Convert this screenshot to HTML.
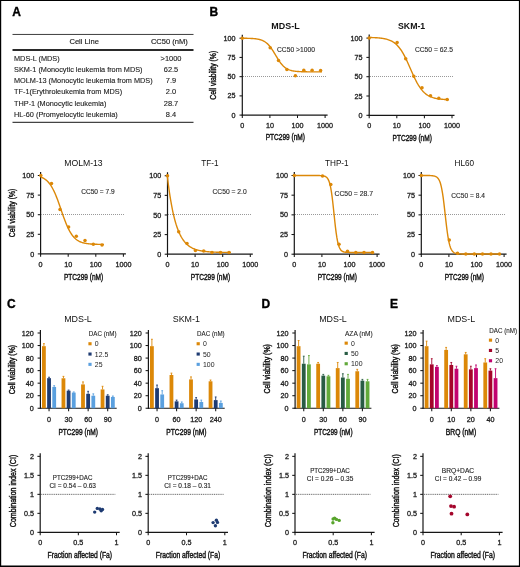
<!DOCTYPE html>
<html><head><meta charset="utf-8"><style>
html,body{margin:0;padding:0;background:#fff;}
svg{display:block;font-family:"Liberation Sans",sans-serif;will-change:transform;}
</style></head><body>
<svg width="520" height="567" viewBox="0 0 520 567">
<rect width="520" height="567" fill="#fff"/>
<rect x="0.00" y="0.00" width="520.00" height="1.00" fill="#000"/>
<rect x="0.00" y="0.00" width="1.20" height="567.00" fill="#000"/>
<rect x="518.90" y="0.00" width="1.10" height="567.00" fill="#000"/>
<rect x="0.00" y="565.50" width="520.00" height="1.50" fill="#000"/>
<text x="12.30" y="15.80" font-size="12" font-weight="bold" fill="#000" stroke="#000" stroke-width="0.35">A</text>
<text x="209.60" y="15.90" font-size="12" font-weight="bold" fill="#000" stroke="#000" stroke-width="0.35">B</text>
<text x="7.00" y="308.00" font-size="12" font-weight="bold" fill="#000" stroke="#000" stroke-width="0.35">C</text>
<text x="261.40" y="308.00" font-size="12" font-weight="bold" fill="#000" stroke="#000" stroke-width="0.35">D</text>
<text x="389.90" y="308.00" font-size="12" font-weight="bold" fill="#000" stroke="#000" stroke-width="0.35">E</text>
<line x1="12.50" y1="34.45" x2="193.50" y2="34.45" stroke="#333" stroke-width="0.95"/>
<line x1="12.50" y1="49.90" x2="193.50" y2="49.90" stroke="#2a2a2a" stroke-width="2.0"/>
<line x1="12.50" y1="122.45" x2="193.50" y2="122.45" stroke="#444" stroke-width="1.2"/>
<text x="84.20" y="43.90" font-size="7.6" text-anchor="middle" fill="#222" stroke="#222" stroke-width="0.15">Cell Line</text>
<text x="169.40" y="43.90" font-size="7.6" text-anchor="middle" textLength="37.00" lengthAdjust="spacingAndGlyphs" fill="#222" stroke="#222" stroke-width="0.15">CC50 (nM)</text>
<text transform="matrix(0.935 0 0 1 14.0 60.50)" font-size="7.85" fill="#222" stroke="#222" stroke-width="0.12">MDS-L (MDS)</text>
<text transform="matrix(0.95 0 0 1 171 60.50)" font-size="7.85" text-anchor="middle" fill="#222" stroke="#222" stroke-width="0.12">&gt;1000</text>
<text transform="matrix(0.935 0 0 1 14.0 71.75)" font-size="7.85" fill="#222" stroke="#222" stroke-width="0.12">SKM-1 (Monocytic leukemia from MDS)</text>
<text transform="matrix(0.95 0 0 1 171 71.75)" font-size="7.85" text-anchor="middle" fill="#222" stroke="#222" stroke-width="0.12">62.5</text>
<text transform="matrix(0.935 0 0 1 14.0 83.00)" font-size="7.85" fill="#222" stroke="#222" stroke-width="0.12">MOLM-13 (Monocytic leukemia from MDS)</text>
<text transform="matrix(0.95 0 0 1 171 83.00)" font-size="7.85" text-anchor="middle" fill="#222" stroke="#222" stroke-width="0.12">7.9</text>
<text transform="matrix(0.935 0 0 1 14.0 94.25)" font-size="7.85" fill="#222" stroke="#222" stroke-width="0.12">TF-1(Erythroleukemia from MDS)</text>
<text transform="matrix(0.95 0 0 1 171 94.25)" font-size="7.85" text-anchor="middle" fill="#222" stroke="#222" stroke-width="0.12">2.0</text>
<text transform="matrix(0.935 0 0 1 14.0 105.50)" font-size="7.85" fill="#222" stroke="#222" stroke-width="0.12">THP-1 (Monocytic leukemia)</text>
<text transform="matrix(0.95 0 0 1 171 105.50)" font-size="7.85" text-anchor="middle" fill="#222" stroke="#222" stroke-width="0.12">28.7</text>
<text transform="matrix(0.935 0 0 1 14.0 116.75)" font-size="7.85" fill="#222" stroke="#222" stroke-width="0.12">HL-60 (Promyelocytic leukemia)</text>
<text transform="matrix(0.95 0 0 1 171 116.75)" font-size="7.85" text-anchor="middle" fill="#222" stroke="#222" stroke-width="0.12">8.4</text>
<text x="285.50" y="29.40" font-size="8.8" text-anchor="middle" font-weight="bold" textLength="28.30" lengthAdjust="spacingAndGlyphs" fill="#111">MDS-L</text>
<line x1="242.30" y1="34.70" x2="242.30" y2="115.60" stroke="#161616" stroke-width="1.2"/>
<line x1="241.70" y1="115.10" x2="327.60" y2="115.10" stroke="#161616" stroke-width="1.2"/>
<line x1="239.50" y1="115.10" x2="242.30" y2="115.10" stroke="#161616" stroke-width="1.05"/>
<text x="235.50" y="117.70" font-size="7.2" text-anchor="end" fill="#222" stroke="#222" stroke-width="0.3">0</text>
<line x1="239.50" y1="95.88" x2="242.30" y2="95.88" stroke="#161616" stroke-width="1.05"/>
<text x="235.50" y="98.47" font-size="7.2" text-anchor="end" fill="#222" stroke="#222" stroke-width="0.3">25</text>
<line x1="239.50" y1="76.65" x2="242.30" y2="76.65" stroke="#161616" stroke-width="1.05"/>
<text x="235.50" y="79.25" font-size="7.2" text-anchor="end" fill="#222" stroke="#222" stroke-width="0.3">50</text>
<line x1="239.50" y1="57.43" x2="242.30" y2="57.43" stroke="#161616" stroke-width="1.05"/>
<text x="235.50" y="60.03" font-size="7.2" text-anchor="end" fill="#222" stroke="#222" stroke-width="0.3">75</text>
<line x1="239.50" y1="38.20" x2="242.30" y2="38.20" stroke="#161616" stroke-width="1.05"/>
<text x="235.50" y="40.80" font-size="7.2" text-anchor="end" fill="#222" stroke="#222" stroke-width="0.3">100</text>
<line x1="242.30" y1="115.10" x2="242.30" y2="118.00" stroke="#161616" stroke-width="1.05"/>
<text x="242.30" y="128.20" font-size="7.2" text-anchor="middle" fill="#222" stroke="#222" stroke-width="0.3">0</text>
<line x1="269.90" y1="115.10" x2="269.90" y2="118.00" stroke="#161616" stroke-width="1.05"/>
<text x="269.90" y="128.20" font-size="7.2" text-anchor="middle" fill="#222" stroke="#222" stroke-width="0.3">10</text>
<line x1="297.50" y1="115.10" x2="297.50" y2="118.00" stroke="#161616" stroke-width="1.05"/>
<text x="297.50" y="128.20" font-size="7.2" text-anchor="middle" fill="#222" stroke="#222" stroke-width="0.3">100</text>
<line x1="325.10" y1="115.10" x2="325.10" y2="118.00" stroke="#161616" stroke-width="1.05"/>
<text x="325.10" y="128.20" font-size="7.2" text-anchor="middle" fill="#222" stroke="#222" stroke-width="0.3">1000</text>
<line x1="243.00" y1="76.50" x2="326.30" y2="76.50" stroke="#999999" stroke-width="1.0" stroke-dasharray="1,1"/>
<path d="M242.30,38.24 L242.96,38.25 L243.63,38.26 L244.29,38.26 L244.96,38.27 L245.62,38.28 L246.29,38.30 L246.95,38.31 L247.61,38.33 L248.28,38.34 L248.94,38.36 L249.61,38.39 L250.27,38.41 L250.93,38.44 L251.60,38.48 L252.26,38.52 L252.93,38.56 L253.59,38.61 L254.26,38.67 L254.92,38.73 L255.58,38.81 L256.25,38.89 L256.91,38.99 L257.58,39.10 L258.24,39.22 L258.90,39.36 L259.57,39.52 L260.23,39.70 L260.90,39.91 L261.56,40.13 L262.23,40.39 L262.89,40.68 L263.55,41.00 L264.22,41.37 L264.88,41.77 L265.55,42.22 L266.21,42.71 L266.87,43.26 L267.54,43.85 L268.20,44.51 L268.87,45.22 L269.53,45.99 L270.19,46.81 L270.86,47.69 L271.52,48.62 L272.19,49.60 L272.85,50.62 L273.52,51.68 L274.18,52.77 L274.84,53.88 L275.51,55.00 L276.17,56.12 L276.84,57.23 L277.50,58.32 L278.17,59.38 L278.83,60.40 L279.49,61.39 L280.16,62.32 L280.82,63.21 L281.49,64.04 L282.15,64.81 L282.81,65.52 L283.48,66.18 L284.14,66.78 L284.81,67.33 L285.47,67.83 L286.13,68.28 L286.80,68.69 L287.46,69.05 L288.13,69.38 L288.79,69.67 L289.46,69.93 L290.12,70.16 L290.78,70.36 L291.45,70.55 L292.11,70.71 L292.78,70.85 L293.44,70.97 L294.11,71.08 L294.77,71.18 L295.43,71.27 L296.10,71.34 L296.76,71.41 L297.43,71.47 L298.09,71.52 L298.75,71.56 L299.42,71.60 L300.08,71.64 L300.75,71.67 L301.41,71.69 L302.07,71.72 L302.74,71.74 L303.40,71.76 L304.07,71.77 L304.73,71.79 L305.40,71.80 L306.06,71.81 L306.72,71.82 L307.39,71.83 L308.05,71.83 L308.72,71.84 L309.38,71.84 L310.05,71.85 L310.71,71.85 L311.37,71.86 L312.04,71.86 L312.70,71.86 L313.37,71.86 L314.03,71.87 L314.69,71.87 L315.36,71.87 L316.02,71.87 L316.69,71.87 L317.35,71.87 L318.01,71.88 L318.68,71.88 L319.34,71.88 L320.01,71.88 L320.67,71.88 L321.34,71.88 L322.00,71.88" fill="none" stroke="#DC8808" stroke-width="1.4"/>
<circle cx="242.30" cy="38.20" r="1.75" fill="#DC8808"/>
<circle cx="270.20" cy="47.70" r="1.75" fill="#DC8808"/>
<circle cx="278.50" cy="60.60" r="1.75" fill="#DC8808"/>
<circle cx="286.90" cy="69.60" r="1.75" fill="#DC8808"/>
<circle cx="295.40" cy="75.80" r="1.75" fill="#DC8808"/>
<circle cx="303.80" cy="70.20" r="1.75" fill="#DC8808"/>
<circle cx="312.10" cy="70.20" r="1.75" fill="#DC8808"/>
<circle cx="320.60" cy="70.60" r="1.75" fill="#DC8808"/>
<text x="277.00" y="52.00" font-size="6.8" textLength="38.00" lengthAdjust="spacingAndGlyphs" fill="#2a2a2a" stroke="#2a2a2a" stroke-width="0.12">CC50 &gt;1000</text>
<text x="285.30" y="140.40" font-size="8.4" text-anchor="middle" textLength="39.30" lengthAdjust="spacingAndGlyphs" fill="#111" stroke="#111" stroke-width="0.4">PTC299 (nM)</text>
<text x="411.60" y="29.40" font-size="8.8" text-anchor="middle" font-weight="bold" textLength="27.20" lengthAdjust="spacingAndGlyphs" fill="#111">SKM-1</text>
<line x1="369.20" y1="34.60" x2="369.20" y2="115.80" stroke="#161616" stroke-width="1.2"/>
<line x1="368.60" y1="115.30" x2="454.50" y2="115.30" stroke="#161616" stroke-width="1.2"/>
<line x1="366.40" y1="115.30" x2="369.20" y2="115.30" stroke="#161616" stroke-width="1.05"/>
<text x="362.40" y="117.90" font-size="7.2" text-anchor="end" fill="#222" stroke="#222" stroke-width="0.3">0</text>
<line x1="366.40" y1="96.00" x2="369.20" y2="96.00" stroke="#161616" stroke-width="1.05"/>
<text x="362.40" y="98.60" font-size="7.2" text-anchor="end" fill="#222" stroke="#222" stroke-width="0.3">25</text>
<line x1="366.40" y1="76.70" x2="369.20" y2="76.70" stroke="#161616" stroke-width="1.05"/>
<text x="362.40" y="79.30" font-size="7.2" text-anchor="end" fill="#222" stroke="#222" stroke-width="0.3">50</text>
<line x1="366.40" y1="57.40" x2="369.20" y2="57.40" stroke="#161616" stroke-width="1.05"/>
<text x="362.40" y="60.00" font-size="7.2" text-anchor="end" fill="#222" stroke="#222" stroke-width="0.3">75</text>
<line x1="366.40" y1="38.10" x2="369.20" y2="38.10" stroke="#161616" stroke-width="1.05"/>
<text x="362.40" y="40.70" font-size="7.2" text-anchor="end" fill="#222" stroke="#222" stroke-width="0.3">100</text>
<line x1="369.20" y1="115.30" x2="369.20" y2="118.20" stroke="#161616" stroke-width="1.05"/>
<text x="369.20" y="128.40" font-size="7.2" text-anchor="middle" fill="#222" stroke="#222" stroke-width="0.3">0</text>
<line x1="396.80" y1="115.30" x2="396.80" y2="118.20" stroke="#161616" stroke-width="1.05"/>
<text x="396.80" y="128.40" font-size="7.2" text-anchor="middle" fill="#222" stroke="#222" stroke-width="0.3">10</text>
<line x1="424.40" y1="115.30" x2="424.40" y2="118.20" stroke="#161616" stroke-width="1.05"/>
<text x="424.40" y="128.40" font-size="7.2" text-anchor="middle" fill="#222" stroke="#222" stroke-width="0.3">100</text>
<line x1="452.00" y1="115.30" x2="452.00" y2="118.20" stroke="#161616" stroke-width="1.05"/>
<text x="452.00" y="128.40" font-size="7.2" text-anchor="middle" fill="#222" stroke="#222" stroke-width="0.3">1000</text>
<line x1="370.00" y1="76.50" x2="453.20" y2="76.50" stroke="#999999" stroke-width="1.0" stroke-dasharray="1,1"/>
<path d="M369.20,37.48 L369.87,37.50 L370.53,37.51 L371.19,37.53 L371.86,37.55 L372.52,37.58 L373.19,37.60 L373.86,37.63 L374.52,37.66 L375.19,37.69 L375.85,37.73 L376.51,37.77 L377.18,37.82 L377.84,37.87 L378.51,37.92 L379.18,37.98 L379.84,38.05 L380.50,38.12 L381.17,38.20 L381.83,38.28 L382.50,38.38 L383.16,38.49 L383.83,38.60 L384.50,38.73 L385.16,38.87 L385.82,39.02 L386.49,39.19 L387.15,39.37 L387.82,39.57 L388.49,39.79 L389.15,40.03 L389.81,40.29 L390.48,40.58 L391.14,40.89 L391.81,41.23 L392.47,41.61 L393.14,42.01 L393.81,42.45 L394.47,42.92 L395.13,43.44 L395.80,43.99 L396.46,44.59 L397.13,45.24 L397.80,45.94 L398.46,46.68 L399.12,47.48 L399.79,48.34 L400.45,49.24 L401.12,50.21 L401.78,51.23 L402.45,52.31 L403.12,53.44 L403.78,54.63 L404.44,55.87 L405.11,57.16 L405.77,58.50 L406.44,59.88 L407.11,61.30 L407.77,62.75 L408.44,64.23 L409.10,65.72 L409.76,67.23 L410.43,68.75 L411.09,70.27 L411.76,71.77 L412.43,73.27 L413.09,74.74 L413.75,76.18 L414.42,77.60 L415.08,78.97 L415.75,80.30 L416.42,81.58 L417.08,82.81 L417.75,83.98 L418.41,85.11 L419.07,86.17 L419.74,87.18 L420.40,88.14 L421.07,89.03 L421.74,89.87 L422.40,90.66 L423.06,91.40 L423.73,92.08 L424.39,92.72 L425.06,93.31 L425.73,93.86 L426.39,94.37 L427.06,94.83 L427.72,95.26 L428.38,95.66 L429.05,96.03 L429.71,96.36 L430.38,96.67 L431.05,96.95 L431.71,97.21 L432.38,97.44 L433.04,97.66 L433.70,97.86 L434.37,98.04 L435.03,98.20 L435.70,98.35 L436.37,98.49 L437.03,98.61 L437.69,98.72 L438.36,98.83 L439.02,98.92 L439.69,99.01 L440.36,99.09 L441.02,99.16 L441.69,99.22 L442.35,99.28 L443.01,99.33 L443.68,99.38 L444.35,99.43 L445.01,99.47 L445.68,99.50 L446.34,99.53 L447.00,99.56 L447.67,99.59 L448.33,99.62 L449.00,99.64" fill="none" stroke="#DC8808" stroke-width="1.4"/>
<circle cx="369.20" cy="38.10" r="1.75" fill="#DC8808"/>
<circle cx="397.10" cy="42.50" r="1.75" fill="#DC8808"/>
<circle cx="405.70" cy="58.80" r="1.75" fill="#DC8808"/>
<circle cx="413.80" cy="76.30" r="1.75" fill="#DC8808"/>
<circle cx="422.00" cy="87.80" r="1.75" fill="#DC8808"/>
<circle cx="430.50" cy="95.70" r="1.75" fill="#DC8808"/>
<circle cx="438.80" cy="98.30" r="1.75" fill="#DC8808"/>
<circle cx="447.20" cy="99.40" r="1.75" fill="#DC8808"/>
<text x="414.90" y="52.00" font-size="6.8" textLength="38.00" lengthAdjust="spacingAndGlyphs" fill="#2a2a2a" stroke="#2a2a2a" stroke-width="0.12">CC50 = 62.5</text>
<text x="412.20" y="140.60" font-size="8.4" text-anchor="middle" textLength="39.30" lengthAdjust="spacingAndGlyphs" fill="#111" stroke="#111" stroke-width="0.4">PTC299 (nM)</text>
<text x="83.45" y="166.20" font-size="8.2" text-anchor="middle" textLength="38.50" lengthAdjust="spacingAndGlyphs" fill="#111">MOLM-13</text>
<line x1="40.60" y1="172.00" x2="40.60" y2="254.40" stroke="#161616" stroke-width="1.2"/>
<line x1="40.00" y1="253.90" x2="125.90" y2="253.90" stroke="#161616" stroke-width="1.2"/>
<line x1="37.80" y1="253.90" x2="40.60" y2="253.90" stroke="#161616" stroke-width="1.05"/>
<text x="34.35" y="256.50" font-size="7.2" text-anchor="end" fill="#222" stroke="#222" stroke-width="0.3">0</text>
<line x1="37.80" y1="234.30" x2="40.60" y2="234.30" stroke="#161616" stroke-width="1.05"/>
<text x="34.35" y="236.90" font-size="7.2" text-anchor="end" fill="#222" stroke="#222" stroke-width="0.3">25</text>
<line x1="37.80" y1="214.70" x2="40.60" y2="214.70" stroke="#161616" stroke-width="1.05"/>
<text x="34.35" y="217.30" font-size="7.2" text-anchor="end" fill="#222" stroke="#222" stroke-width="0.3">50</text>
<line x1="37.80" y1="195.10" x2="40.60" y2="195.10" stroke="#161616" stroke-width="1.05"/>
<text x="34.35" y="197.70" font-size="7.2" text-anchor="end" fill="#222" stroke="#222" stroke-width="0.3">75</text>
<line x1="37.80" y1="175.50" x2="40.60" y2="175.50" stroke="#161616" stroke-width="1.05"/>
<text x="34.35" y="178.10" font-size="7.2" text-anchor="end" fill="#222" stroke="#222" stroke-width="0.3">100</text>
<line x1="40.60" y1="253.90" x2="40.60" y2="256.80" stroke="#161616" stroke-width="1.05"/>
<text x="40.60" y="267.00" font-size="7.2" text-anchor="middle" fill="#222" stroke="#222" stroke-width="0.3">0</text>
<line x1="68.20" y1="253.90" x2="68.20" y2="256.80" stroke="#161616" stroke-width="1.05"/>
<text x="68.20" y="267.00" font-size="7.2" text-anchor="middle" fill="#222" stroke="#222" stroke-width="0.3">10</text>
<line x1="95.80" y1="253.90" x2="95.80" y2="256.80" stroke="#161616" stroke-width="1.05"/>
<text x="95.80" y="267.00" font-size="7.2" text-anchor="middle" fill="#222" stroke="#222" stroke-width="0.3">100</text>
<line x1="123.40" y1="253.90" x2="123.40" y2="256.80" stroke="#161616" stroke-width="1.05"/>
<text x="123.40" y="267.00" font-size="7.2" text-anchor="middle" fill="#222" stroke="#222" stroke-width="0.3">1000</text>
<line x1="41.00" y1="214.50" x2="124.60" y2="214.50" stroke="#999999" stroke-width="1.0" stroke-dasharray="1,1"/>
<path d="M40.60,176.95 L41.13,177.15 L41.66,177.36 L42.19,177.60 L42.71,177.85 L43.24,178.13 L43.77,178.42 L44.30,178.74 L44.83,179.09 L45.36,179.47 L45.88,179.87 L46.41,180.31 L46.94,180.78 L47.47,181.29 L48.00,181.83 L48.52,182.42 L49.05,183.04 L49.58,183.71 L50.11,184.42 L50.64,185.18 L51.17,185.99 L51.70,186.85 L52.22,187.76 L52.75,188.72 L53.28,189.73 L53.81,190.80 L54.34,191.91 L54.87,193.08 L55.39,194.30 L55.92,195.57 L56.45,196.88 L56.98,198.23 L57.51,199.62 L58.03,201.05 L58.56,202.51 L59.09,204.00 L59.62,205.51 L60.15,207.03 L60.68,208.56 L61.20,210.10 L61.73,211.64 L62.26,213.16 L62.79,214.68 L63.32,216.17 L63.85,217.64 L64.38,219.08 L64.90,220.49 L65.43,221.86 L65.96,223.19 L66.49,224.47 L67.02,225.70 L67.55,226.89 L68.07,228.02 L68.60,229.11 L69.13,230.14 L69.66,231.12 L70.19,232.04 L70.72,232.92 L71.24,233.75 L71.77,234.52 L72.30,235.25 L72.83,235.94 L73.36,236.58 L73.88,237.17 L74.41,237.73 L74.94,238.25 L75.47,238.73 L76.00,239.18 L76.53,239.60 L77.06,239.99 L77.58,240.34 L78.11,240.67 L78.64,240.98 L79.17,241.26 L79.70,241.52 L80.22,241.76 L80.75,241.99 L81.28,242.19 L81.81,242.38 L82.34,242.55 L82.87,242.71 L83.39,242.86 L83.92,242.99 L84.45,243.12 L84.98,243.23 L85.51,243.34 L86.04,243.43 L86.56,243.52 L87.09,243.60 L87.62,243.68 L88.15,243.74 L88.68,243.81 L89.21,243.86 L89.73,243.92 L90.26,243.96 L90.79,244.01 L91.32,244.05 L91.85,244.09 L92.38,244.12 L92.91,244.15 L93.43,244.18 L93.96,244.21 L94.49,244.23 L95.02,244.25 L95.55,244.27 L96.08,244.29 L96.60,244.31 L97.13,244.32 L97.66,244.34 L98.19,244.35 L98.72,244.36 L99.25,244.37 L99.77,244.38 L100.30,244.39 L100.83,244.40 L101.36,244.41 L101.89,244.42 L102.42,244.42 L102.94,244.43 L103.47,244.43 L104.00,244.44" fill="none" stroke="#DC8808" stroke-width="1.4"/>
<circle cx="40.80" cy="175.40" r="1.75" fill="#DC8808"/>
<circle cx="51.50" cy="183.40" r="1.75" fill="#DC8808"/>
<circle cx="60.00" cy="209.60" r="1.75" fill="#DC8808"/>
<circle cx="68.60" cy="227.10" r="1.75" fill="#DC8808"/>
<circle cx="76.30" cy="236.20" r="1.75" fill="#DC8808"/>
<circle cx="85.00" cy="240.50" r="1.75" fill="#DC8808"/>
<circle cx="93.30" cy="244.20" r="1.75" fill="#DC8808"/>
<circle cx="102.00" cy="245.00" r="1.75" fill="#DC8808"/>
<text x="81.20" y="194.20" font-size="6.4" textLength="33.50" lengthAdjust="spacingAndGlyphs" fill="#2a2a2a" stroke="#2a2a2a" stroke-width="0.12">CC50 = 7.9</text>
<text x="83.60" y="279.80" font-size="8.4" text-anchor="middle" textLength="39.30" lengthAdjust="spacingAndGlyphs" fill="#111" stroke="#111" stroke-width="0.4">PTC299 (nM)</text>
<text x="210.00" y="166.20" font-size="8.2" text-anchor="middle" fill="#111">TF-1</text>
<line x1="167.50" y1="172.25" x2="167.50" y2="254.70" stroke="#161616" stroke-width="1.2"/>
<line x1="166.90" y1="254.20" x2="252.80" y2="254.20" stroke="#161616" stroke-width="1.2"/>
<line x1="164.70" y1="254.20" x2="167.50" y2="254.20" stroke="#161616" stroke-width="1.05"/>
<text x="161.25" y="256.80" font-size="7.2" text-anchor="end" fill="#222" stroke="#222" stroke-width="0.3">0</text>
<line x1="164.70" y1="234.59" x2="167.50" y2="234.59" stroke="#161616" stroke-width="1.05"/>
<text x="161.25" y="237.19" font-size="7.2" text-anchor="end" fill="#222" stroke="#222" stroke-width="0.3">25</text>
<line x1="164.70" y1="214.97" x2="167.50" y2="214.97" stroke="#161616" stroke-width="1.05"/>
<text x="161.25" y="217.57" font-size="7.2" text-anchor="end" fill="#222" stroke="#222" stroke-width="0.3">50</text>
<line x1="164.70" y1="195.36" x2="167.50" y2="195.36" stroke="#161616" stroke-width="1.05"/>
<text x="161.25" y="197.96" font-size="7.2" text-anchor="end" fill="#222" stroke="#222" stroke-width="0.3">75</text>
<line x1="164.70" y1="175.75" x2="167.50" y2="175.75" stroke="#161616" stroke-width="1.05"/>
<text x="161.25" y="178.35" font-size="7.2" text-anchor="end" fill="#222" stroke="#222" stroke-width="0.3">100</text>
<line x1="167.50" y1="254.20" x2="167.50" y2="257.10" stroke="#161616" stroke-width="1.05"/>
<text x="167.50" y="267.30" font-size="7.2" text-anchor="middle" fill="#222" stroke="#222" stroke-width="0.3">0</text>
<line x1="195.10" y1="254.20" x2="195.10" y2="257.10" stroke="#161616" stroke-width="1.05"/>
<text x="195.10" y="267.30" font-size="7.2" text-anchor="middle" fill="#222" stroke="#222" stroke-width="0.3">10</text>
<line x1="222.70" y1="254.20" x2="222.70" y2="257.10" stroke="#161616" stroke-width="1.05"/>
<text x="222.70" y="267.30" font-size="7.2" text-anchor="middle" fill="#222" stroke="#222" stroke-width="0.3">100</text>
<line x1="250.30" y1="254.20" x2="250.30" y2="257.10" stroke="#161616" stroke-width="1.05"/>
<text x="250.30" y="267.30" font-size="7.2" text-anchor="middle" fill="#222" stroke="#222" stroke-width="0.3">1000</text>
<line x1="168.00" y1="214.50" x2="251.50" y2="214.50" stroke="#999999" stroke-width="1.0" stroke-dasharray="1,1"/>
<path d="M167.30,175.75 L167.83,180.26 L168.36,184.50 L168.89,188.49 L169.42,192.24 L169.95,195.78 L170.49,199.11 L171.02,202.24 L171.55,205.19 L172.08,207.97 L172.61,210.58 L173.14,213.04 L173.67,215.36 L174.20,217.54 L174.73,219.59 L175.26,221.52 L175.79,223.34 L176.32,225.05 L176.86,226.66 L177.39,228.18 L177.92,229.60 L178.45,230.95 L178.98,232.21 L179.51,233.40 L180.04,234.52 L180.57,235.57 L181.10,236.57 L181.63,237.50 L182.16,238.38 L182.69,239.21 L183.22,239.99 L183.76,240.72 L184.29,241.41 L184.82,242.06 L185.35,242.67 L185.88,243.25 L186.41,243.79 L186.94,244.30 L187.47,244.78 L188.00,245.23 L188.53,245.66 L189.06,246.06 L189.59,246.43 L190.13,246.79 L190.66,247.12 L191.19,247.44 L191.72,247.73 L192.25,248.01 L192.78,248.27 L193.31,248.52 L193.84,248.75 L194.37,248.97 L194.90,249.18 L195.43,249.37 L195.97,249.55 L196.50,249.72 L197.03,249.88 L197.56,250.04 L198.09,250.18 L198.62,250.31 L199.15,250.44 L199.68,250.56 L200.21,250.67 L200.74,250.78 L201.27,250.88 L201.80,250.97 L202.34,251.06 L202.87,251.14 L203.40,251.22 L203.93,251.30 L204.46,251.36 L204.99,251.43 L205.52,251.49 L206.05,251.55 L206.58,251.60 L207.11,251.65 L207.64,251.70 L208.17,251.75 L208.71,251.79 L209.24,251.83 L209.77,251.87 L210.30,251.90 L210.83,251.94 L211.36,251.97 L211.89,252.00 L212.42,252.03 L212.95,252.05 L213.48,252.08 L214.01,252.10 L214.54,252.12 L215.07,252.14 L215.61,252.16 L216.14,252.18 L216.67,252.20 L217.20,252.21 L217.73,252.23 L218.26,252.24 L218.79,252.26 L219.32,252.27 L219.85,252.28 L220.38,252.29 L220.91,252.30 L221.44,252.31 L221.98,252.32 L222.51,252.33 L223.04,252.34 L223.57,252.35 L224.10,252.36 L224.63,252.36 L225.16,252.37 L225.69,252.38 L226.22,252.38 L226.75,252.39 L227.28,252.39 L227.81,252.40 L228.35,252.40 L228.88,252.41 L229.41,252.41 L229.94,252.41 L230.47,252.42 L231.00,252.42" fill="none" stroke="#DC8808" stroke-width="1.4"/>
<circle cx="167.50" cy="175.75" r="1.75" fill="#DC8808"/>
<circle cx="178.70" cy="231.80" r="1.75" fill="#DC8808"/>
<circle cx="187.00" cy="243.50" r="1.75" fill="#DC8808"/>
<circle cx="195.40" cy="250.50" r="1.75" fill="#DC8808"/>
<circle cx="203.70" cy="251.00" r="1.75" fill="#DC8808"/>
<circle cx="212.00" cy="252.50" r="1.75" fill="#DC8808"/>
<circle cx="220.50" cy="252.50" r="1.75" fill="#DC8808"/>
<circle cx="229.00" cy="252.50" r="1.75" fill="#DC8808"/>
<text x="212.50" y="194.30" font-size="6.4" textLength="34.20" lengthAdjust="spacingAndGlyphs" fill="#2a2a2a" stroke="#2a2a2a" stroke-width="0.12">CC50 = 2.0</text>
<text x="210.50" y="280.10" font-size="8.4" text-anchor="middle" textLength="39.30" lengthAdjust="spacingAndGlyphs" fill="#111" stroke="#111" stroke-width="0.4">PTC299 (nM)</text>
<text x="336.80" y="166.20" font-size="8.2" text-anchor="middle" fill="#111">THP-1</text>
<line x1="294.30" y1="172.00" x2="294.30" y2="254.70" stroke="#161616" stroke-width="1.2"/>
<line x1="293.70" y1="254.20" x2="379.60" y2="254.20" stroke="#161616" stroke-width="1.2"/>
<line x1="291.50" y1="254.20" x2="294.30" y2="254.20" stroke="#161616" stroke-width="1.05"/>
<text x="288.05" y="256.80" font-size="7.2" text-anchor="end" fill="#222" stroke="#222" stroke-width="0.3">0</text>
<line x1="291.50" y1="234.52" x2="294.30" y2="234.52" stroke="#161616" stroke-width="1.05"/>
<text x="288.05" y="237.12" font-size="7.2" text-anchor="end" fill="#222" stroke="#222" stroke-width="0.3">25</text>
<line x1="291.50" y1="214.85" x2="294.30" y2="214.85" stroke="#161616" stroke-width="1.05"/>
<text x="288.05" y="217.45" font-size="7.2" text-anchor="end" fill="#222" stroke="#222" stroke-width="0.3">50</text>
<line x1="291.50" y1="195.18" x2="294.30" y2="195.18" stroke="#161616" stroke-width="1.05"/>
<text x="288.05" y="197.78" font-size="7.2" text-anchor="end" fill="#222" stroke="#222" stroke-width="0.3">75</text>
<line x1="291.50" y1="175.50" x2="294.30" y2="175.50" stroke="#161616" stroke-width="1.05"/>
<text x="288.05" y="178.10" font-size="7.2" text-anchor="end" fill="#222" stroke="#222" stroke-width="0.3">100</text>
<line x1="294.30" y1="254.20" x2="294.30" y2="257.10" stroke="#161616" stroke-width="1.05"/>
<text x="294.30" y="267.30" font-size="7.2" text-anchor="middle" fill="#222" stroke="#222" stroke-width="0.3">0</text>
<line x1="321.90" y1="254.20" x2="321.90" y2="257.10" stroke="#161616" stroke-width="1.05"/>
<text x="321.90" y="267.30" font-size="7.2" text-anchor="middle" fill="#222" stroke="#222" stroke-width="0.3">10</text>
<line x1="349.50" y1="254.20" x2="349.50" y2="257.10" stroke="#161616" stroke-width="1.05"/>
<text x="349.50" y="267.30" font-size="7.2" text-anchor="middle" fill="#222" stroke="#222" stroke-width="0.3">100</text>
<line x1="377.10" y1="254.20" x2="377.10" y2="257.10" stroke="#161616" stroke-width="1.05"/>
<text x="377.10" y="267.30" font-size="7.2" text-anchor="middle" fill="#222" stroke="#222" stroke-width="0.3">1000</text>
<line x1="295.00" y1="214.50" x2="378.30" y2="214.50" stroke="#999999" stroke-width="1.0" stroke-dasharray="1,1"/>
<path d="M294.30,175.50 L294.96,175.50 L295.63,175.50 L296.29,175.50 L296.96,175.50 L297.62,175.50 L298.29,175.50 L298.95,175.50 L299.61,175.50 L300.28,175.50 L300.94,175.50 L301.61,175.50 L302.27,175.50 L302.93,175.50 L303.60,175.50 L304.26,175.50 L304.93,175.50 L305.59,175.50 L306.25,175.50 L306.92,175.50 L307.58,175.50 L308.25,175.50 L308.91,175.50 L309.58,175.50 L310.24,175.50 L310.90,175.50 L311.57,175.50 L312.23,175.50 L312.90,175.50 L313.56,175.50 L314.23,175.50 L314.89,175.51 L315.55,175.51 L316.22,175.51 L316.88,175.51 L317.55,175.52 L318.21,175.53 L318.87,175.54 L319.54,175.55 L320.20,175.58 L320.87,175.61 L321.53,175.65 L322.19,175.71 L322.86,175.79 L323.52,175.90 L324.19,176.06 L324.85,176.27 L325.52,176.57 L326.18,176.99 L326.84,177.56 L327.51,178.34 L328.17,179.40 L328.84,180.83 L329.50,182.74 L330.17,185.23 L330.83,188.43 L331.49,192.41 L332.16,197.20 L332.82,202.73 L333.49,208.82 L334.15,215.18 L334.81,221.48 L335.48,227.39 L336.14,232.66 L336.81,237.15 L337.47,240.82 L338.13,243.74 L338.80,246.00 L339.46,247.72 L340.13,249.00 L340.79,249.95 L341.46,250.65 L342.12,251.15 L342.78,251.52 L343.45,251.79 L344.11,251.98 L344.78,252.12 L345.44,252.22 L346.11,252.29 L346.77,252.34 L347.43,252.38 L348.10,252.40 L348.76,252.42 L349.43,252.43 L350.09,252.44 L350.75,252.45 L351.42,252.46 L352.08,252.46 L352.75,252.46 L353.41,252.46 L354.07,252.47 L354.74,252.47 L355.40,252.47 L356.07,252.47 L356.73,252.47 L357.40,252.47 L358.06,252.47 L358.72,252.47 L359.39,252.47 L360.05,252.47 L360.72,252.47 L361.38,252.47 L362.05,252.47 L362.71,252.47 L363.37,252.47 L364.04,252.47 L364.70,252.47 L365.37,252.47 L366.03,252.47 L366.69,252.47 L367.36,252.47 L368.02,252.47 L368.69,252.47 L369.35,252.47 L370.01,252.47 L370.68,252.47 L371.34,252.47 L372.01,252.47 L372.67,252.47 L373.34,252.47 L374.00,252.47" fill="none" stroke="#DC8808" stroke-width="1.4"/>
<circle cx="294.30" cy="175.50" r="1.75" fill="#DC8808"/>
<circle cx="322.50" cy="176.00" r="1.75" fill="#DC8808"/>
<circle cx="330.80" cy="184.50" r="1.75" fill="#DC8808"/>
<circle cx="339.00" cy="244.20" r="1.75" fill="#DC8808"/>
<circle cx="347.50" cy="251.20" r="1.75" fill="#DC8808"/>
<circle cx="355.80" cy="252.50" r="1.75" fill="#DC8808"/>
<circle cx="364.00" cy="252.50" r="1.75" fill="#DC8808"/>
<circle cx="372.50" cy="252.50" r="1.75" fill="#DC8808"/>
<text x="334.50" y="195.60" font-size="6.4" textLength="38.50" lengthAdjust="spacingAndGlyphs" fill="#2a2a2a" stroke="#2a2a2a" stroke-width="0.12">CC50 = 28.7</text>
<text x="337.30" y="280.10" font-size="8.4" text-anchor="middle" textLength="39.30" lengthAdjust="spacingAndGlyphs" fill="#111" stroke="#111" stroke-width="0.4">PTC299 (nM)</text>
<text x="464.30" y="166.20" font-size="8.2" text-anchor="middle" fill="#111">HL60</text>
<line x1="421.30" y1="172.00" x2="421.30" y2="254.70" stroke="#161616" stroke-width="1.2"/>
<line x1="420.70" y1="254.20" x2="506.60" y2="254.20" stroke="#161616" stroke-width="1.2"/>
<line x1="418.50" y1="254.20" x2="421.30" y2="254.20" stroke="#161616" stroke-width="1.05"/>
<text x="415.05" y="256.80" font-size="7.2" text-anchor="end" fill="#222" stroke="#222" stroke-width="0.3">0</text>
<line x1="418.50" y1="234.52" x2="421.30" y2="234.52" stroke="#161616" stroke-width="1.05"/>
<text x="415.05" y="237.12" font-size="7.2" text-anchor="end" fill="#222" stroke="#222" stroke-width="0.3">25</text>
<line x1="418.50" y1="214.85" x2="421.30" y2="214.85" stroke="#161616" stroke-width="1.05"/>
<text x="415.05" y="217.45" font-size="7.2" text-anchor="end" fill="#222" stroke="#222" stroke-width="0.3">50</text>
<line x1="418.50" y1="195.18" x2="421.30" y2="195.18" stroke="#161616" stroke-width="1.05"/>
<text x="415.05" y="197.78" font-size="7.2" text-anchor="end" fill="#222" stroke="#222" stroke-width="0.3">75</text>
<line x1="418.50" y1="175.50" x2="421.30" y2="175.50" stroke="#161616" stroke-width="1.05"/>
<text x="415.05" y="178.10" font-size="7.2" text-anchor="end" fill="#222" stroke="#222" stroke-width="0.3">100</text>
<line x1="421.30" y1="254.20" x2="421.30" y2="257.10" stroke="#161616" stroke-width="1.05"/>
<text x="421.30" y="267.30" font-size="7.2" text-anchor="middle" fill="#222" stroke="#222" stroke-width="0.3">0</text>
<line x1="448.90" y1="254.20" x2="448.90" y2="257.10" stroke="#161616" stroke-width="1.05"/>
<text x="448.90" y="267.30" font-size="7.2" text-anchor="middle" fill="#222" stroke="#222" stroke-width="0.3">10</text>
<line x1="476.50" y1="254.20" x2="476.50" y2="257.10" stroke="#161616" stroke-width="1.05"/>
<text x="476.50" y="267.30" font-size="7.2" text-anchor="middle" fill="#222" stroke="#222" stroke-width="0.3">100</text>
<line x1="504.10" y1="254.20" x2="504.10" y2="257.10" stroke="#161616" stroke-width="1.05"/>
<text x="504.10" y="267.30" font-size="7.2" text-anchor="middle" fill="#222" stroke="#222" stroke-width="0.3">1000</text>
<line x1="422.00" y1="214.50" x2="505.30" y2="214.50" stroke="#999999" stroke-width="1.0" stroke-dasharray="1,1"/>
<path d="M421.30,175.50 L421.96,175.50 L422.63,175.50 L423.29,175.50 L423.96,175.50 L424.62,175.51 L425.29,175.51 L425.95,175.51 L426.61,175.52 L427.28,175.52 L427.94,175.53 L428.61,175.54 L429.27,175.55 L429.93,175.57 L430.60,175.60 L431.26,175.63 L431.93,175.68 L432.59,175.74 L433.25,175.82 L433.92,175.94 L434.58,176.09 L435.25,176.30 L435.91,176.59 L436.58,176.97 L437.24,177.47 L437.90,178.15 L438.57,179.06 L439.23,180.25 L439.90,181.80 L440.56,183.81 L441.23,186.36 L441.89,189.54 L442.55,193.40 L443.22,197.95 L443.88,203.14 L444.55,208.80 L445.21,214.74 L445.87,220.67 L446.54,226.33 L447.20,231.52 L447.87,236.07 L448.53,239.93 L449.19,243.11 L449.86,245.66 L450.52,247.66 L451.19,249.22 L451.85,250.41 L452.52,251.31 L453.18,251.99 L453.84,252.50 L454.51,252.88 L455.17,253.16 L455.84,253.37 L456.50,253.53 L457.17,253.64 L457.83,253.72 L458.49,253.79 L459.16,253.83 L459.82,253.87 L460.49,253.89 L461.15,253.91 L461.81,253.93 L462.48,253.94 L463.14,253.94 L463.81,253.95 L464.47,253.95 L465.13,253.96 L465.80,253.96 L466.46,253.96 L467.13,253.96 L467.79,253.96 L468.46,253.96 L469.12,253.96 L469.78,253.96 L470.45,253.96 L471.11,253.96 L471.78,253.96 L472.44,253.96 L473.11,253.96 L473.77,253.96 L474.43,253.96 L475.10,253.96 L475.76,253.96 L476.43,253.96 L477.09,253.96 L477.75,253.96 L478.42,253.96 L479.08,253.96 L479.75,253.96 L480.41,253.96 L481.07,253.96 L481.74,253.96 L482.40,253.96 L483.07,253.96 L483.73,253.96 L484.40,253.96 L485.06,253.96 L485.72,253.96 L486.39,253.96 L487.05,253.96 L487.72,253.96 L488.38,253.96 L489.05,253.96 L489.71,253.96 L490.37,253.96 L491.04,253.96 L491.70,253.96 L492.37,253.96 L493.03,253.96 L493.69,253.96 L494.36,253.96 L495.02,253.96 L495.69,253.96 L496.35,253.96 L497.01,253.96 L497.68,253.96 L498.34,253.96 L499.01,253.96 L499.67,253.96 L500.34,253.96 L501.00,253.96" fill="none" stroke="#DC8808" stroke-width="1.4"/>
<circle cx="421.30" cy="175.50" r="1.75" fill="#DC8808"/>
<circle cx="449.30" cy="240.00" r="1.75" fill="#DC8808"/>
<circle cx="457.50" cy="253.20" r="1.75" fill="#DC8808"/>
<circle cx="465.80" cy="254.00" r="1.75" fill="#DC8808"/>
<circle cx="474.30" cy="254.00" r="1.75" fill="#DC8808"/>
<circle cx="482.50" cy="254.00" r="1.75" fill="#DC8808"/>
<circle cx="491.00" cy="254.00" r="1.75" fill="#DC8808"/>
<circle cx="499.50" cy="254.00" r="1.75" fill="#DC8808"/>
<text x="451.30" y="197.90" font-size="6.4" textLength="33.70" lengthAdjust="spacingAndGlyphs" fill="#2a2a2a" stroke="#2a2a2a" stroke-width="0.12">CC50 = 8.4</text>
<text x="464.30" y="280.10" font-size="8.4" text-anchor="middle" textLength="39.30" lengthAdjust="spacingAndGlyphs" fill="#111" stroke="#111" stroke-width="0.4">PTC299 (nM)</text>
<text x="78.00" y="321.60" font-size="8.9" text-anchor="middle" fill="#111">MDS-L</text>
<line x1="40.40" y1="330.00" x2="40.40" y2="408.75" stroke="#161616" stroke-width="1.2"/>
<line x1="39.80" y1="408.25" x2="116.70" y2="408.25" stroke="#161616" stroke-width="1.2"/>
<line x1="37.60" y1="408.25" x2="40.40" y2="408.25" stroke="#161616" stroke-width="1.05"/>
<text x="33.80" y="410.85" font-size="7.2" text-anchor="end" fill="#222" stroke="#222" stroke-width="0.3">0</text>
<line x1="37.60" y1="395.71" x2="40.40" y2="395.71" stroke="#161616" stroke-width="1.05"/>
<text x="33.80" y="398.31" font-size="7.2" text-anchor="end" fill="#222" stroke="#222" stroke-width="0.3">20</text>
<line x1="37.60" y1="383.17" x2="40.40" y2="383.17" stroke="#161616" stroke-width="1.05"/>
<text x="33.80" y="385.77" font-size="7.2" text-anchor="end" fill="#222" stroke="#222" stroke-width="0.3">40</text>
<line x1="37.60" y1="370.62" x2="40.40" y2="370.62" stroke="#161616" stroke-width="1.05"/>
<text x="33.80" y="373.23" font-size="7.2" text-anchor="end" fill="#222" stroke="#222" stroke-width="0.3">60</text>
<line x1="37.60" y1="358.08" x2="40.40" y2="358.08" stroke="#161616" stroke-width="1.05"/>
<text x="33.80" y="360.68" font-size="7.2" text-anchor="end" fill="#222" stroke="#222" stroke-width="0.3">80</text>
<line x1="37.60" y1="345.54" x2="40.40" y2="345.54" stroke="#161616" stroke-width="1.05"/>
<text x="33.80" y="348.14" font-size="7.2" text-anchor="end" fill="#222" stroke="#222" stroke-width="0.3">100</text>
<line x1="37.60" y1="333.00" x2="40.40" y2="333.00" stroke="#161616" stroke-width="1.05"/>
<text x="33.80" y="335.60" font-size="7.2" text-anchor="end" fill="#222" stroke="#222" stroke-width="0.3">120</text>
<line x1="43.90" y1="346.17" x2="43.90" y2="343.66" stroke="#DC8808" stroke-width="0.9"/>
<line x1="43.00" y1="343.66" x2="44.80" y2="343.66" stroke="#DC8808" stroke-width="0.9"/>
<rect x="42.00" y="346.17" width="3.80" height="62.08" fill="#DC8808"/>
<line x1="49.05" y1="378.15" x2="49.05" y2="377.21" stroke="#1E3B72" stroke-width="0.9"/>
<line x1="48.15" y1="377.21" x2="49.95" y2="377.21" stroke="#1E3B72" stroke-width="0.9"/>
<rect x="47.15" y="378.15" width="3.80" height="30.10" fill="#1E3B72"/>
<line x1="54.20" y1="386.93" x2="54.20" y2="385.68" stroke="#5AA0DF" stroke-width="0.9"/>
<line x1="53.30" y1="385.68" x2="55.10" y2="385.68" stroke="#5AA0DF" stroke-width="0.9"/>
<rect x="52.30" y="386.93" width="3.80" height="21.32" fill="#5AA0DF"/>
<line x1="49.05" y1="408.25" x2="49.05" y2="411.25" stroke="#161616" stroke-width="1.05"/>
<text x="49.05" y="421.95" font-size="7.2" text-anchor="middle" fill="#222" stroke="#222" stroke-width="0.3">0</text>
<line x1="63.45" y1="378.28" x2="63.45" y2="376.39" stroke="#DC8808" stroke-width="0.9"/>
<line x1="62.55" y1="376.39" x2="64.35" y2="376.39" stroke="#DC8808" stroke-width="0.9"/>
<rect x="61.55" y="378.28" width="3.80" height="29.97" fill="#DC8808"/>
<line x1="68.60" y1="390.69" x2="68.60" y2="390.06" stroke="#1E3B72" stroke-width="0.9"/>
<line x1="67.70" y1="390.06" x2="69.50" y2="390.06" stroke="#1E3B72" stroke-width="0.9"/>
<rect x="66.70" y="390.69" width="3.80" height="17.56" fill="#1E3B72"/>
<line x1="73.75" y1="392.57" x2="73.75" y2="391.95" stroke="#5AA0DF" stroke-width="0.9"/>
<line x1="72.85" y1="391.95" x2="74.65" y2="391.95" stroke="#5AA0DF" stroke-width="0.9"/>
<rect x="71.85" y="392.57" width="3.80" height="15.68" fill="#5AA0DF"/>
<line x1="68.60" y1="408.25" x2="68.60" y2="411.25" stroke="#161616" stroke-width="1.05"/>
<text x="68.60" y="421.95" font-size="7.2" text-anchor="middle" fill="#222" stroke="#222" stroke-width="0.3">30</text>
<line x1="83.00" y1="384.42" x2="83.00" y2="381.91" stroke="#DC8808" stroke-width="0.9"/>
<line x1="82.10" y1="381.91" x2="83.90" y2="381.91" stroke="#DC8808" stroke-width="0.9"/>
<rect x="81.10" y="384.42" width="3.80" height="23.83" fill="#DC8808"/>
<line x1="88.15" y1="393.83" x2="88.15" y2="391.32" stroke="#1E3B72" stroke-width="0.9"/>
<line x1="87.25" y1="391.32" x2="89.05" y2="391.32" stroke="#1E3B72" stroke-width="0.9"/>
<rect x="86.25" y="393.83" width="3.80" height="14.42" fill="#1E3B72"/>
<line x1="93.30" y1="395.71" x2="93.30" y2="393.83" stroke="#5AA0DF" stroke-width="0.9"/>
<line x1="92.40" y1="393.83" x2="94.20" y2="393.83" stroke="#5AA0DF" stroke-width="0.9"/>
<rect x="91.40" y="395.71" width="3.80" height="12.54" fill="#5AA0DF"/>
<line x1="88.15" y1="408.25" x2="88.15" y2="411.25" stroke="#161616" stroke-width="1.05"/>
<text x="88.15" y="421.95" font-size="7.2" text-anchor="middle" fill="#222" stroke="#222" stroke-width="0.3">60</text>
<line x1="102.55" y1="389.44" x2="102.55" y2="386.30" stroke="#DC8808" stroke-width="0.9"/>
<line x1="101.65" y1="386.30" x2="103.45" y2="386.30" stroke="#DC8808" stroke-width="0.9"/>
<rect x="100.65" y="389.44" width="3.80" height="18.81" fill="#DC8808"/>
<line x1="107.70" y1="395.71" x2="107.70" y2="394.77" stroke="#1E3B72" stroke-width="0.9"/>
<line x1="106.80" y1="394.77" x2="108.60" y2="394.77" stroke="#1E3B72" stroke-width="0.9"/>
<rect x="105.80" y="395.71" width="3.80" height="12.54" fill="#1E3B72"/>
<line x1="112.85" y1="396.96" x2="112.85" y2="396.02" stroke="#5AA0DF" stroke-width="0.9"/>
<line x1="111.95" y1="396.02" x2="113.75" y2="396.02" stroke="#5AA0DF" stroke-width="0.9"/>
<rect x="110.95" y="396.96" width="3.80" height="11.29" fill="#5AA0DF"/>
<line x1="107.70" y1="408.25" x2="107.70" y2="411.25" stroke="#161616" stroke-width="1.05"/>
<text x="107.70" y="421.95" font-size="7.2" text-anchor="middle" fill="#222" stroke="#222" stroke-width="0.3">90</text>
<text x="88.80" y="336.20" font-size="6.4" textLength="27.70" lengthAdjust="spacingAndGlyphs" fill="#222" stroke="#222" stroke-width="0.08">DAC (nM)</text>
<rect x="88.40" y="342.20" width="3.20" height="3.10" fill="#DC8808"/>
<text x="94.80" y="346.20" font-size="6.9" fill="#222">0</text>
<rect x="88.40" y="352.50" width="3.20" height="3.10" fill="#1E3B72"/>
<text x="94.80" y="356.50" font-size="6.9" fill="#222">12.5</text>
<rect x="88.40" y="362.80" width="3.20" height="3.10" fill="#5AA0DF"/>
<text x="94.80" y="366.80" font-size="6.9" fill="#222">25</text>
<text x="78.20" y="434.60" font-size="8.4" text-anchor="middle" textLength="39.60" lengthAdjust="spacingAndGlyphs" fill="#111" stroke="#111" stroke-width="0.4">PTC299 (nM)</text>
<text x="186.30" y="321.60" font-size="8.9" text-anchor="middle" fill="#111">SKM-1</text>
<line x1="148.40" y1="330.00" x2="148.40" y2="408.75" stroke="#161616" stroke-width="1.2"/>
<line x1="147.80" y1="408.25" x2="224.70" y2="408.25" stroke="#161616" stroke-width="1.2"/>
<line x1="145.60" y1="408.25" x2="148.40" y2="408.25" stroke="#161616" stroke-width="1.05"/>
<text x="141.80" y="410.85" font-size="7.2" text-anchor="end" fill="#222" stroke="#222" stroke-width="0.3">0</text>
<line x1="145.60" y1="395.71" x2="148.40" y2="395.71" stroke="#161616" stroke-width="1.05"/>
<text x="141.80" y="398.31" font-size="7.2" text-anchor="end" fill="#222" stroke="#222" stroke-width="0.3">20</text>
<line x1="145.60" y1="383.17" x2="148.40" y2="383.17" stroke="#161616" stroke-width="1.05"/>
<text x="141.80" y="385.77" font-size="7.2" text-anchor="end" fill="#222" stroke="#222" stroke-width="0.3">40</text>
<line x1="145.60" y1="370.62" x2="148.40" y2="370.62" stroke="#161616" stroke-width="1.05"/>
<text x="141.80" y="373.23" font-size="7.2" text-anchor="end" fill="#222" stroke="#222" stroke-width="0.3">60</text>
<line x1="145.60" y1="358.08" x2="148.40" y2="358.08" stroke="#161616" stroke-width="1.05"/>
<text x="141.80" y="360.68" font-size="7.2" text-anchor="end" fill="#222" stroke="#222" stroke-width="0.3">80</text>
<line x1="145.60" y1="345.54" x2="148.40" y2="345.54" stroke="#161616" stroke-width="1.05"/>
<text x="141.80" y="348.14" font-size="7.2" text-anchor="end" fill="#222" stroke="#222" stroke-width="0.3">100</text>
<line x1="145.60" y1="333.00" x2="148.40" y2="333.00" stroke="#161616" stroke-width="1.05"/>
<text x="141.80" y="335.60" font-size="7.2" text-anchor="end" fill="#222" stroke="#222" stroke-width="0.3">120</text>
<line x1="151.90" y1="346.17" x2="151.90" y2="339.27" stroke="#DC8808" stroke-width="0.9"/>
<line x1="151.00" y1="339.27" x2="152.80" y2="339.27" stroke="#DC8808" stroke-width="0.9"/>
<rect x="150.00" y="346.17" width="3.80" height="62.08" fill="#DC8808"/>
<line x1="157.05" y1="388.18" x2="157.05" y2="385.05" stroke="#1E3B72" stroke-width="0.9"/>
<line x1="156.15" y1="385.05" x2="157.95" y2="385.05" stroke="#1E3B72" stroke-width="0.9"/>
<rect x="155.15" y="388.18" width="3.80" height="20.07" fill="#1E3B72"/>
<line x1="162.20" y1="394.45" x2="162.20" y2="390.69" stroke="#5AA0DF" stroke-width="0.9"/>
<line x1="161.30" y1="390.69" x2="163.10" y2="390.69" stroke="#5AA0DF" stroke-width="0.9"/>
<rect x="160.30" y="394.45" width="3.80" height="13.80" fill="#5AA0DF"/>
<line x1="157.05" y1="408.25" x2="157.05" y2="411.25" stroke="#161616" stroke-width="1.05"/>
<text x="157.05" y="421.95" font-size="7.2" text-anchor="middle" fill="#222" stroke="#222" stroke-width="0.3">0</text>
<line x1="171.45" y1="375.01" x2="171.45" y2="373.13" stroke="#DC8808" stroke-width="0.9"/>
<line x1="170.55" y1="373.13" x2="172.35" y2="373.13" stroke="#DC8808" stroke-width="0.9"/>
<rect x="169.55" y="375.01" width="3.80" height="33.24" fill="#DC8808"/>
<line x1="176.60" y1="401.35" x2="176.60" y2="400.10" stroke="#1E3B72" stroke-width="0.9"/>
<line x1="175.70" y1="400.10" x2="177.50" y2="400.10" stroke="#1E3B72" stroke-width="0.9"/>
<rect x="174.70" y="401.35" width="3.80" height="6.90" fill="#1E3B72"/>
<line x1="181.75" y1="403.23" x2="181.75" y2="401.98" stroke="#5AA0DF" stroke-width="0.9"/>
<line x1="180.85" y1="401.98" x2="182.65" y2="401.98" stroke="#5AA0DF" stroke-width="0.9"/>
<rect x="179.85" y="403.23" width="3.80" height="5.02" fill="#5AA0DF"/>
<line x1="176.60" y1="408.25" x2="176.60" y2="411.25" stroke="#161616" stroke-width="1.05"/>
<text x="176.60" y="421.95" font-size="7.2" text-anchor="middle" fill="#222" stroke="#222" stroke-width="0.3">60</text>
<line x1="191.00" y1="379.40" x2="191.00" y2="376.90" stroke="#DC8808" stroke-width="0.9"/>
<line x1="190.10" y1="376.90" x2="191.90" y2="376.90" stroke="#DC8808" stroke-width="0.9"/>
<rect x="189.10" y="379.40" width="3.80" height="28.85" fill="#DC8808"/>
<line x1="196.15" y1="399.47" x2="196.15" y2="397.59" stroke="#1E3B72" stroke-width="0.9"/>
<line x1="195.25" y1="397.59" x2="197.05" y2="397.59" stroke="#1E3B72" stroke-width="0.9"/>
<rect x="194.25" y="399.47" width="3.80" height="8.78" fill="#1E3B72"/>
<line x1="201.30" y1="401.98" x2="201.30" y2="400.10" stroke="#5AA0DF" stroke-width="0.9"/>
<line x1="200.40" y1="400.10" x2="202.20" y2="400.10" stroke="#5AA0DF" stroke-width="0.9"/>
<rect x="199.40" y="401.98" width="3.80" height="6.27" fill="#5AA0DF"/>
<line x1="196.15" y1="408.25" x2="196.15" y2="411.25" stroke="#161616" stroke-width="1.05"/>
<text x="196.15" y="421.95" font-size="7.2" text-anchor="middle" fill="#222" stroke="#222" stroke-width="0.3">120</text>
<line x1="210.55" y1="381.29" x2="210.55" y2="380.03" stroke="#DC8808" stroke-width="0.9"/>
<line x1="209.65" y1="380.03" x2="211.45" y2="380.03" stroke="#DC8808" stroke-width="0.9"/>
<rect x="208.65" y="381.29" width="3.80" height="26.96" fill="#DC8808"/>
<line x1="215.70" y1="400.10" x2="215.70" y2="396.96" stroke="#1E3B72" stroke-width="0.9"/>
<line x1="214.80" y1="396.96" x2="216.60" y2="396.96" stroke="#1E3B72" stroke-width="0.9"/>
<rect x="213.80" y="400.10" width="3.80" height="8.15" fill="#1E3B72"/>
<line x1="220.85" y1="402.92" x2="220.85" y2="401.04" stroke="#5AA0DF" stroke-width="0.9"/>
<line x1="219.95" y1="401.04" x2="221.75" y2="401.04" stroke="#5AA0DF" stroke-width="0.9"/>
<rect x="218.95" y="402.92" width="3.80" height="5.33" fill="#5AA0DF"/>
<line x1="215.70" y1="408.25" x2="215.70" y2="411.25" stroke="#161616" stroke-width="1.05"/>
<text x="215.70" y="421.95" font-size="7.2" text-anchor="middle" fill="#222" stroke="#222" stroke-width="0.3">240</text>
<text x="197.00" y="336.20" font-size="6.4" textLength="27.70" lengthAdjust="spacingAndGlyphs" fill="#222" stroke="#222" stroke-width="0.08">DAC (nM)</text>
<rect x="196.60" y="342.20" width="3.20" height="3.10" fill="#DC8808"/>
<text x="203.00" y="346.20" font-size="6.9" fill="#222">0</text>
<rect x="196.60" y="352.50" width="3.20" height="3.10" fill="#1E3B72"/>
<text x="203.00" y="356.50" font-size="6.9" fill="#222">50</text>
<rect x="196.60" y="362.80" width="3.20" height="3.10" fill="#5AA0DF"/>
<text x="203.00" y="366.80" font-size="6.9" fill="#222">100</text>
<text x="186.40" y="434.60" font-size="8.4" text-anchor="middle" textLength="40.20" lengthAdjust="spacingAndGlyphs" fill="#111" stroke="#111" stroke-width="0.4">PTC299 (nM)</text>
<text x="333.00" y="321.60" font-size="8.9" text-anchor="middle" fill="#111">MDS-L</text>
<line x1="295.10" y1="330.00" x2="295.10" y2="408.75" stroke="#161616" stroke-width="1.2"/>
<line x1="294.50" y1="408.25" x2="371.40" y2="408.25" stroke="#161616" stroke-width="1.2"/>
<line x1="292.30" y1="408.25" x2="295.10" y2="408.25" stroke="#161616" stroke-width="1.05"/>
<text x="288.50" y="410.85" font-size="7.2" text-anchor="end" fill="#222" stroke="#222" stroke-width="0.3">0</text>
<line x1="292.30" y1="395.71" x2="295.10" y2="395.71" stroke="#161616" stroke-width="1.05"/>
<text x="288.50" y="398.31" font-size="7.2" text-anchor="end" fill="#222" stroke="#222" stroke-width="0.3">20</text>
<line x1="292.30" y1="383.17" x2="295.10" y2="383.17" stroke="#161616" stroke-width="1.05"/>
<text x="288.50" y="385.77" font-size="7.2" text-anchor="end" fill="#222" stroke="#222" stroke-width="0.3">40</text>
<line x1="292.30" y1="370.62" x2="295.10" y2="370.62" stroke="#161616" stroke-width="1.05"/>
<text x="288.50" y="373.23" font-size="7.2" text-anchor="end" fill="#222" stroke="#222" stroke-width="0.3">60</text>
<line x1="292.30" y1="358.08" x2="295.10" y2="358.08" stroke="#161616" stroke-width="1.05"/>
<text x="288.50" y="360.68" font-size="7.2" text-anchor="end" fill="#222" stroke="#222" stroke-width="0.3">80</text>
<line x1="292.30" y1="345.54" x2="295.10" y2="345.54" stroke="#161616" stroke-width="1.05"/>
<text x="288.50" y="348.14" font-size="7.2" text-anchor="end" fill="#222" stroke="#222" stroke-width="0.3">100</text>
<line x1="292.30" y1="333.00" x2="295.10" y2="333.00" stroke="#161616" stroke-width="1.05"/>
<text x="288.50" y="335.60" font-size="7.2" text-anchor="end" fill="#222" stroke="#222" stroke-width="0.3">120</text>
<line x1="298.60" y1="346.17" x2="298.60" y2="340.52" stroke="#DC8808" stroke-width="0.9"/>
<line x1="297.70" y1="340.52" x2="299.50" y2="340.52" stroke="#DC8808" stroke-width="0.9"/>
<rect x="296.70" y="346.17" width="3.80" height="62.08" fill="#DC8808"/>
<line x1="303.75" y1="363.73" x2="303.75" y2="356.20" stroke="#295C44" stroke-width="0.9"/>
<line x1="302.85" y1="356.20" x2="304.65" y2="356.20" stroke="#295C44" stroke-width="0.9"/>
<rect x="301.85" y="363.73" width="3.80" height="44.52" fill="#295C44"/>
<line x1="308.90" y1="364.35" x2="308.90" y2="355.57" stroke="#62A93A" stroke-width="0.9"/>
<line x1="308.00" y1="355.57" x2="309.80" y2="355.57" stroke="#62A93A" stroke-width="0.9"/>
<rect x="307.00" y="364.35" width="3.80" height="43.90" fill="#62A93A"/>
<line x1="303.75" y1="408.25" x2="303.75" y2="411.25" stroke="#161616" stroke-width="1.05"/>
<text x="303.75" y="421.95" font-size="7.2" text-anchor="middle" fill="#222" stroke="#222" stroke-width="0.3">0</text>
<line x1="318.15" y1="363.73" x2="318.15" y2="362.47" stroke="#DC8808" stroke-width="0.9"/>
<line x1="317.25" y1="362.47" x2="319.05" y2="362.47" stroke="#DC8808" stroke-width="0.9"/>
<rect x="316.25" y="363.73" width="3.80" height="44.52" fill="#DC8808"/>
<line x1="323.30" y1="375.64" x2="323.30" y2="374.39" stroke="#295C44" stroke-width="0.9"/>
<line x1="322.40" y1="374.39" x2="324.20" y2="374.39" stroke="#295C44" stroke-width="0.9"/>
<rect x="321.40" y="375.64" width="3.80" height="32.61" fill="#295C44"/>
<line x1="328.45" y1="376.27" x2="328.45" y2="375.33" stroke="#62A93A" stroke-width="0.9"/>
<line x1="327.55" y1="375.33" x2="329.35" y2="375.33" stroke="#62A93A" stroke-width="0.9"/>
<rect x="326.55" y="376.27" width="3.80" height="31.98" fill="#62A93A"/>
<line x1="323.30" y1="408.25" x2="323.30" y2="411.25" stroke="#161616" stroke-width="1.05"/>
<text x="323.30" y="421.95" font-size="7.2" text-anchor="middle" fill="#222" stroke="#222" stroke-width="0.3">30</text>
<line x1="337.70" y1="368.12" x2="337.70" y2="362.47" stroke="#DC8808" stroke-width="0.9"/>
<line x1="336.80" y1="362.47" x2="338.60" y2="362.47" stroke="#DC8808" stroke-width="0.9"/>
<rect x="335.80" y="368.12" width="3.80" height="40.13" fill="#DC8808"/>
<line x1="342.85" y1="377.52" x2="342.85" y2="373.76" stroke="#295C44" stroke-width="0.9"/>
<line x1="341.95" y1="373.76" x2="343.75" y2="373.76" stroke="#295C44" stroke-width="0.9"/>
<rect x="340.95" y="377.52" width="3.80" height="30.73" fill="#295C44"/>
<line x1="348.00" y1="378.78" x2="348.00" y2="374.39" stroke="#62A93A" stroke-width="0.9"/>
<line x1="347.10" y1="374.39" x2="348.90" y2="374.39" stroke="#62A93A" stroke-width="0.9"/>
<rect x="346.10" y="378.78" width="3.80" height="29.47" fill="#62A93A"/>
<line x1="342.85" y1="408.25" x2="342.85" y2="411.25" stroke="#161616" stroke-width="1.05"/>
<text x="342.85" y="421.95" font-size="7.2" text-anchor="middle" fill="#222" stroke="#222" stroke-width="0.3">60</text>
<line x1="357.25" y1="371.25" x2="357.25" y2="369.37" stroke="#DC8808" stroke-width="0.9"/>
<line x1="356.35" y1="369.37" x2="358.15" y2="369.37" stroke="#DC8808" stroke-width="0.9"/>
<rect x="355.35" y="371.25" width="3.80" height="37.00" fill="#DC8808"/>
<line x1="362.40" y1="380.66" x2="362.40" y2="379.40" stroke="#295C44" stroke-width="0.9"/>
<line x1="361.50" y1="379.40" x2="363.30" y2="379.40" stroke="#295C44" stroke-width="0.9"/>
<rect x="360.50" y="380.66" width="3.80" height="27.59" fill="#295C44"/>
<line x1="367.55" y1="381.29" x2="367.55" y2="379.40" stroke="#62A93A" stroke-width="0.9"/>
<line x1="366.65" y1="379.40" x2="368.45" y2="379.40" stroke="#62A93A" stroke-width="0.9"/>
<rect x="365.65" y="381.29" width="3.80" height="26.96" fill="#62A93A"/>
<line x1="362.40" y1="408.25" x2="362.40" y2="411.25" stroke="#161616" stroke-width="1.05"/>
<text x="362.40" y="421.95" font-size="7.2" text-anchor="middle" fill="#222" stroke="#222" stroke-width="0.3">90</text>
<text x="345.00" y="335.60" font-size="6.4" textLength="27.70" lengthAdjust="spacingAndGlyphs" fill="#222" stroke="#222" stroke-width="0.08">AZA (nM)</text>
<rect x="344.60" y="341.60" width="3.20" height="3.10" fill="#DC8808"/>
<text x="351.00" y="345.60" font-size="6.9" fill="#222">0</text>
<rect x="344.60" y="351.90" width="3.20" height="3.10" fill="#295C44"/>
<text x="351.00" y="355.90" font-size="6.9" fill="#222">50</text>
<rect x="344.60" y="362.20" width="3.20" height="3.10" fill="#62A93A"/>
<text x="351.00" y="366.20" font-size="6.9" fill="#222">100</text>
<text x="333.30" y="434.60" font-size="8.4" text-anchor="middle" textLength="38.60" lengthAdjust="spacingAndGlyphs" fill="#111" stroke="#111" stroke-width="0.4">PTC299 (nM)</text>
<text x="461.30" y="321.60" font-size="8.9" text-anchor="middle" fill="#111">MDS-L</text>
<line x1="423.10" y1="330.00" x2="423.10" y2="408.75" stroke="#161616" stroke-width="1.2"/>
<line x1="422.50" y1="408.25" x2="499.40" y2="408.25" stroke="#161616" stroke-width="1.2"/>
<line x1="420.30" y1="408.25" x2="423.10" y2="408.25" stroke="#161616" stroke-width="1.05"/>
<text x="416.50" y="410.85" font-size="7.2" text-anchor="end" fill="#222" stroke="#222" stroke-width="0.3">0</text>
<line x1="420.30" y1="395.71" x2="423.10" y2="395.71" stroke="#161616" stroke-width="1.05"/>
<text x="416.50" y="398.31" font-size="7.2" text-anchor="end" fill="#222" stroke="#222" stroke-width="0.3">20</text>
<line x1="420.30" y1="383.17" x2="423.10" y2="383.17" stroke="#161616" stroke-width="1.05"/>
<text x="416.50" y="385.77" font-size="7.2" text-anchor="end" fill="#222" stroke="#222" stroke-width="0.3">40</text>
<line x1="420.30" y1="370.62" x2="423.10" y2="370.62" stroke="#161616" stroke-width="1.05"/>
<text x="416.50" y="373.23" font-size="7.2" text-anchor="end" fill="#222" stroke="#222" stroke-width="0.3">60</text>
<line x1="420.30" y1="358.08" x2="423.10" y2="358.08" stroke="#161616" stroke-width="1.05"/>
<text x="416.50" y="360.68" font-size="7.2" text-anchor="end" fill="#222" stroke="#222" stroke-width="0.3">80</text>
<line x1="420.30" y1="345.54" x2="423.10" y2="345.54" stroke="#161616" stroke-width="1.05"/>
<text x="416.50" y="348.14" font-size="7.2" text-anchor="end" fill="#222" stroke="#222" stroke-width="0.3">100</text>
<line x1="420.30" y1="333.00" x2="423.10" y2="333.00" stroke="#161616" stroke-width="1.05"/>
<text x="416.50" y="335.60" font-size="7.2" text-anchor="end" fill="#222" stroke="#222" stroke-width="0.3">120</text>
<line x1="426.60" y1="346.17" x2="426.60" y2="341.15" stroke="#DC8808" stroke-width="0.9"/>
<line x1="425.70" y1="341.15" x2="427.50" y2="341.15" stroke="#DC8808" stroke-width="0.9"/>
<rect x="424.70" y="346.17" width="3.80" height="62.08" fill="#DC8808"/>
<line x1="431.75" y1="364.35" x2="431.75" y2="358.71" stroke="#A4052B" stroke-width="0.9"/>
<line x1="430.85" y1="358.71" x2="432.65" y2="358.71" stroke="#A4052B" stroke-width="0.9"/>
<rect x="429.85" y="364.35" width="3.80" height="43.90" fill="#A4052B"/>
<line x1="436.90" y1="366.86" x2="436.90" y2="365.61" stroke="#C2036F" stroke-width="0.9"/>
<line x1="436.00" y1="365.61" x2="437.80" y2="365.61" stroke="#C2036F" stroke-width="0.9"/>
<rect x="435.00" y="366.86" width="3.80" height="41.39" fill="#C2036F"/>
<line x1="431.75" y1="408.25" x2="431.75" y2="411.25" stroke="#161616" stroke-width="1.05"/>
<text x="431.75" y="421.95" font-size="7.2" text-anchor="middle" fill="#222" stroke="#222" stroke-width="0.3">0</text>
<line x1="446.15" y1="349.93" x2="446.15" y2="347.42" stroke="#DC8808" stroke-width="0.9"/>
<line x1="445.25" y1="347.42" x2="447.05" y2="347.42" stroke="#DC8808" stroke-width="0.9"/>
<rect x="444.25" y="349.93" width="3.80" height="58.32" fill="#DC8808"/>
<line x1="451.30" y1="364.98" x2="451.30" y2="362.47" stroke="#A4052B" stroke-width="0.9"/>
<line x1="450.40" y1="362.47" x2="452.20" y2="362.47" stroke="#A4052B" stroke-width="0.9"/>
<rect x="449.40" y="364.98" width="3.80" height="43.27" fill="#A4052B"/>
<line x1="456.45" y1="368.74" x2="456.45" y2="366.24" stroke="#C2036F" stroke-width="0.9"/>
<line x1="455.55" y1="366.24" x2="457.35" y2="366.24" stroke="#C2036F" stroke-width="0.9"/>
<rect x="454.55" y="368.74" width="3.80" height="39.51" fill="#C2036F"/>
<line x1="451.30" y1="408.25" x2="451.30" y2="411.25" stroke="#161616" stroke-width="1.05"/>
<text x="451.30" y="421.95" font-size="7.2" text-anchor="middle" fill="#222" stroke="#222" stroke-width="0.3">10</text>
<line x1="465.70" y1="354.32" x2="465.70" y2="352.44" stroke="#DC8808" stroke-width="0.9"/>
<line x1="464.80" y1="352.44" x2="466.60" y2="352.44" stroke="#DC8808" stroke-width="0.9"/>
<rect x="463.80" y="354.32" width="3.80" height="53.93" fill="#DC8808"/>
<line x1="470.85" y1="369.37" x2="470.85" y2="366.24" stroke="#A4052B" stroke-width="0.9"/>
<line x1="469.95" y1="366.24" x2="471.75" y2="366.24" stroke="#A4052B" stroke-width="0.9"/>
<rect x="468.95" y="369.37" width="3.80" height="38.88" fill="#A4052B"/>
<line x1="476.00" y1="368.12" x2="476.00" y2="364.98" stroke="#C2036F" stroke-width="0.9"/>
<line x1="475.10" y1="364.98" x2="476.90" y2="364.98" stroke="#C2036F" stroke-width="0.9"/>
<rect x="474.10" y="368.12" width="3.80" height="40.13" fill="#C2036F"/>
<line x1="470.85" y1="408.25" x2="470.85" y2="411.25" stroke="#161616" stroke-width="1.05"/>
<text x="470.85" y="421.95" font-size="7.2" text-anchor="middle" fill="#222" stroke="#222" stroke-width="0.3">20</text>
<line x1="485.25" y1="362.47" x2="485.25" y2="358.71" stroke="#DC8808" stroke-width="0.9"/>
<line x1="484.35" y1="358.71" x2="486.15" y2="358.71" stroke="#DC8808" stroke-width="0.9"/>
<rect x="483.35" y="362.47" width="3.80" height="45.78" fill="#DC8808"/>
<line x1="490.40" y1="370.62" x2="490.40" y2="368.74" stroke="#A4052B" stroke-width="0.9"/>
<line x1="489.50" y1="368.74" x2="491.30" y2="368.74" stroke="#A4052B" stroke-width="0.9"/>
<rect x="488.50" y="370.62" width="3.80" height="37.62" fill="#A4052B"/>
<line x1="495.55" y1="378.15" x2="495.55" y2="368.74" stroke="#C2036F" stroke-width="0.9"/>
<line x1="494.65" y1="368.74" x2="496.45" y2="368.74" stroke="#C2036F" stroke-width="0.9"/>
<rect x="493.65" y="378.15" width="3.80" height="30.10" fill="#C2036F"/>
<line x1="490.40" y1="408.25" x2="490.40" y2="411.25" stroke="#161616" stroke-width="1.05"/>
<text x="490.40" y="421.95" font-size="7.2" text-anchor="middle" fill="#222" stroke="#222" stroke-width="0.3">40</text>
<text x="489.30" y="332.60" font-size="6.4" textLength="27.70" lengthAdjust="spacingAndGlyphs" fill="#222" stroke="#222" stroke-width="0.08">DAC (nM)</text>
<rect x="488.90" y="338.60" width="3.20" height="3.10" fill="#DC8808"/>
<text x="495.30" y="342.60" font-size="6.9" fill="#222">0</text>
<rect x="488.90" y="348.90" width="3.20" height="3.10" fill="#A4052B"/>
<text x="495.30" y="352.90" font-size="6.9" fill="#222">5</text>
<rect x="488.90" y="359.20" width="3.20" height="3.10" fill="#C2036F"/>
<text x="495.30" y="363.20" font-size="6.9" fill="#222">20</text>
<text x="461.00" y="434.60" font-size="8.4" text-anchor="middle" textLength="30.30" lengthAdjust="spacingAndGlyphs" fill="#111" stroke="#111" stroke-width="0.4">BRQ (nM)</text>
<line x1="40.20" y1="453.35" x2="40.20" y2="532.85" stroke="#161616" stroke-width="1.2"/>
<line x1="39.60" y1="532.35" x2="119.70" y2="532.35" stroke="#161616" stroke-width="1.2"/>
<line x1="37.40" y1="532.35" x2="40.20" y2="532.35" stroke="#161616" stroke-width="1.05"/>
<text x="34.10" y="534.55" font-size="7.2" text-anchor="end" fill="#222" stroke="#222" stroke-width="0.3">0</text>
<line x1="37.40" y1="513.35" x2="40.20" y2="513.35" stroke="#161616" stroke-width="1.05"/>
<text x="34.10" y="515.55" font-size="7.2" text-anchor="end" fill="#222" stroke="#222" stroke-width="0.3">0.5</text>
<line x1="37.40" y1="494.35" x2="40.20" y2="494.35" stroke="#161616" stroke-width="1.05"/>
<text x="34.10" y="496.55" font-size="7.2" text-anchor="end" fill="#222" stroke="#222" stroke-width="0.3">1</text>
<line x1="37.40" y1="475.35" x2="40.20" y2="475.35" stroke="#161616" stroke-width="1.05"/>
<text x="34.10" y="477.55" font-size="7.2" text-anchor="end" fill="#222" stroke="#222" stroke-width="0.3">1.5</text>
<line x1="37.40" y1="456.35" x2="40.20" y2="456.35" stroke="#161616" stroke-width="1.05"/>
<text x="34.10" y="458.55" font-size="7.2" text-anchor="end" fill="#222" stroke="#222" stroke-width="0.3">2</text>
<line x1="40.20" y1="532.35" x2="40.20" y2="535.25" stroke="#161616" stroke-width="1.05"/>
<text x="40.20" y="545.15" font-size="7.2" text-anchor="middle" fill="#222" stroke="#222" stroke-width="0.3">0</text>
<line x1="78.35" y1="532.35" x2="78.35" y2="535.25" stroke="#161616" stroke-width="1.05"/>
<text x="78.35" y="545.15" font-size="7.2" text-anchor="middle" fill="#222" stroke="#222" stroke-width="0.3">0.5</text>
<line x1="116.50" y1="532.35" x2="116.50" y2="535.25" stroke="#161616" stroke-width="1.05"/>
<text x="116.50" y="545.15" font-size="7.2" text-anchor="middle" fill="#222" stroke="#222" stroke-width="0.3">1</text>
<line x1="41.20" y1="494.35" x2="115.50" y2="494.35" stroke="#3a3a3a" stroke-width="0.75" stroke-dasharray="1.1,0.75"/>
<text x="72.70" y="480.30" font-size="6.6" text-anchor="middle" textLength="39.70" lengthAdjust="spacingAndGlyphs" fill="#222" stroke="#222" stroke-width="0.12">PTC299+DAC</text>
<text x="72.70" y="487.80" font-size="6.6" text-anchor="middle" textLength="46.60" lengthAdjust="spacingAndGlyphs" fill="#222" stroke="#222" stroke-width="0.12">CI = 0.54 – 0.63</text>
<circle cx="94.70" cy="512.10" r="1.7" fill="#1E3B72"/>
<circle cx="97.30" cy="508.40" r="1.7" fill="#1E3B72"/>
<circle cx="99.90" cy="509.00" r="1.7" fill="#1E3B72"/>
<circle cx="101.20" cy="510.80" r="1.7" fill="#1E3B72"/>
<circle cx="102.50" cy="509.50" r="1.7" fill="#1E3B72"/>
<text x="79.85" y="557.80" font-size="8.4" text-anchor="middle" textLength="64.50" lengthAdjust="spacingAndGlyphs" fill="#111" stroke="#111" stroke-width="0.4">Fraction affected (Fa)</text>
<line x1="148.20" y1="453.35" x2="148.20" y2="532.85" stroke="#161616" stroke-width="1.2"/>
<line x1="147.60" y1="532.35" x2="228.00" y2="532.35" stroke="#161616" stroke-width="1.2"/>
<line x1="145.40" y1="532.35" x2="148.20" y2="532.35" stroke="#161616" stroke-width="1.05"/>
<text x="142.10" y="534.55" font-size="7.2" text-anchor="end" fill="#222" stroke="#222" stroke-width="0.3">0</text>
<line x1="145.40" y1="513.35" x2="148.20" y2="513.35" stroke="#161616" stroke-width="1.05"/>
<text x="142.10" y="515.55" font-size="7.2" text-anchor="end" fill="#222" stroke="#222" stroke-width="0.3">0.5</text>
<line x1="145.40" y1="494.35" x2="148.20" y2="494.35" stroke="#161616" stroke-width="1.05"/>
<text x="142.10" y="496.55" font-size="7.2" text-anchor="end" fill="#222" stroke="#222" stroke-width="0.3">1</text>
<line x1="145.40" y1="475.35" x2="148.20" y2="475.35" stroke="#161616" stroke-width="1.05"/>
<text x="142.10" y="477.55" font-size="7.2" text-anchor="end" fill="#222" stroke="#222" stroke-width="0.3">1.5</text>
<line x1="145.40" y1="456.35" x2="148.20" y2="456.35" stroke="#161616" stroke-width="1.05"/>
<text x="142.10" y="458.55" font-size="7.2" text-anchor="end" fill="#222" stroke="#222" stroke-width="0.3">2</text>
<line x1="148.20" y1="532.35" x2="148.20" y2="535.25" stroke="#161616" stroke-width="1.05"/>
<text x="148.20" y="545.15" font-size="7.2" text-anchor="middle" fill="#222" stroke="#222" stroke-width="0.3">0</text>
<line x1="186.50" y1="532.35" x2="186.50" y2="535.25" stroke="#161616" stroke-width="1.05"/>
<text x="186.50" y="545.15" font-size="7.2" text-anchor="middle" fill="#222" stroke="#222" stroke-width="0.3">0.5</text>
<line x1="224.80" y1="532.35" x2="224.80" y2="535.25" stroke="#161616" stroke-width="1.05"/>
<text x="224.80" y="545.15" font-size="7.2" text-anchor="middle" fill="#222" stroke="#222" stroke-width="0.3">1</text>
<line x1="149.20" y1="494.35" x2="223.80" y2="494.35" stroke="#3a3a3a" stroke-width="0.75" stroke-dasharray="1.1,0.75"/>
<text x="187.60" y="480.30" font-size="6.6" text-anchor="middle" textLength="39.70" lengthAdjust="spacingAndGlyphs" fill="#222" stroke="#222" stroke-width="0.12">PTC299+DAC</text>
<text x="187.60" y="487.80" font-size="6.6" text-anchor="middle" textLength="46.60" lengthAdjust="spacingAndGlyphs" fill="#222" stroke="#222" stroke-width="0.12">CI = 0.18 – 0.31</text>
<circle cx="213.10" cy="522.60" r="1.7" fill="#1E3B72"/>
<circle cx="215.40" cy="525.70" r="1.7" fill="#1E3B72"/>
<circle cx="216.40" cy="520.30" r="1.7" fill="#1E3B72"/>
<circle cx="217.50" cy="522.40" r="1.7" fill="#1E3B72"/>
<text x="188.00" y="557.80" font-size="8.4" text-anchor="middle" textLength="64.50" lengthAdjust="spacingAndGlyphs" fill="#111" stroke="#111" stroke-width="0.4">Fraction affected (Fa)</text>
<line x1="295.00" y1="453.35" x2="295.00" y2="532.85" stroke="#161616" stroke-width="1.2"/>
<line x1="294.40" y1="532.35" x2="374.60" y2="532.35" stroke="#161616" stroke-width="1.2"/>
<line x1="292.20" y1="532.35" x2="295.00" y2="532.35" stroke="#161616" stroke-width="1.05"/>
<text x="288.90" y="534.55" font-size="7.2" text-anchor="end" fill="#222" stroke="#222" stroke-width="0.3">0</text>
<line x1="292.20" y1="513.35" x2="295.00" y2="513.35" stroke="#161616" stroke-width="1.05"/>
<text x="288.90" y="515.55" font-size="7.2" text-anchor="end" fill="#222" stroke="#222" stroke-width="0.3">0.5</text>
<line x1="292.20" y1="494.35" x2="295.00" y2="494.35" stroke="#161616" stroke-width="1.05"/>
<text x="288.90" y="496.55" font-size="7.2" text-anchor="end" fill="#222" stroke="#222" stroke-width="0.3">1</text>
<line x1="292.20" y1="475.35" x2="295.00" y2="475.35" stroke="#161616" stroke-width="1.05"/>
<text x="288.90" y="477.55" font-size="7.2" text-anchor="end" fill="#222" stroke="#222" stroke-width="0.3">1.5</text>
<line x1="292.20" y1="456.35" x2="295.00" y2="456.35" stroke="#161616" stroke-width="1.05"/>
<text x="288.90" y="458.55" font-size="7.2" text-anchor="end" fill="#222" stroke="#222" stroke-width="0.3">2</text>
<line x1="295.00" y1="532.35" x2="295.00" y2="535.25" stroke="#161616" stroke-width="1.05"/>
<text x="295.00" y="545.15" font-size="7.2" text-anchor="middle" fill="#222" stroke="#222" stroke-width="0.3">0</text>
<line x1="333.20" y1="532.35" x2="333.20" y2="535.25" stroke="#161616" stroke-width="1.05"/>
<text x="333.20" y="545.15" font-size="7.2" text-anchor="middle" fill="#222" stroke="#222" stroke-width="0.3">0.5</text>
<line x1="371.40" y1="532.35" x2="371.40" y2="535.25" stroke="#161616" stroke-width="1.05"/>
<text x="371.40" y="545.15" font-size="7.2" text-anchor="middle" fill="#222" stroke="#222" stroke-width="0.3">1</text>
<line x1="296.00" y1="494.35" x2="370.40" y2="494.35" stroke="#3a3a3a" stroke-width="0.75" stroke-dasharray="1.1,0.75"/>
<text x="330.00" y="473.00" font-size="6.6" text-anchor="middle" textLength="39.70" lengthAdjust="spacingAndGlyphs" fill="#222" stroke="#222" stroke-width="0.12">PTC299+DAC</text>
<text x="330.00" y="480.50" font-size="6.6" text-anchor="middle" textLength="46.60" lengthAdjust="spacingAndGlyphs" fill="#222" stroke="#222" stroke-width="0.12">CI = 0.26 – 0.35</text>
<circle cx="332.90" cy="522.70" r="1.7" fill="#58A42C"/>
<circle cx="333.10" cy="519.00" r="1.7" fill="#58A42C"/>
<circle cx="334.60" cy="518.10" r="1.7" fill="#58A42C"/>
<circle cx="336.50" cy="519.40" r="1.7" fill="#58A42C"/>
<circle cx="339.20" cy="520.40" r="1.7" fill="#58A42C"/>
<text x="334.70" y="557.80" font-size="8.4" text-anchor="middle" textLength="64.60" lengthAdjust="spacingAndGlyphs" fill="#111" stroke="#111" stroke-width="0.4">Fraction affected (Fa)</text>
<line x1="423.00" y1="453.35" x2="423.00" y2="532.85" stroke="#161616" stroke-width="1.2"/>
<line x1="422.40" y1="532.35" x2="502.60" y2="532.35" stroke="#161616" stroke-width="1.2"/>
<line x1="420.20" y1="532.35" x2="423.00" y2="532.35" stroke="#161616" stroke-width="1.05"/>
<text x="416.90" y="534.55" font-size="7.2" text-anchor="end" fill="#222" stroke="#222" stroke-width="0.3">0</text>
<line x1="420.20" y1="513.35" x2="423.00" y2="513.35" stroke="#161616" stroke-width="1.05"/>
<text x="416.90" y="515.55" font-size="7.2" text-anchor="end" fill="#222" stroke="#222" stroke-width="0.3">0.5</text>
<line x1="420.20" y1="494.35" x2="423.00" y2="494.35" stroke="#161616" stroke-width="1.05"/>
<text x="416.90" y="496.55" font-size="7.2" text-anchor="end" fill="#222" stroke="#222" stroke-width="0.3">1</text>
<line x1="420.20" y1="475.35" x2="423.00" y2="475.35" stroke="#161616" stroke-width="1.05"/>
<text x="416.90" y="477.55" font-size="7.2" text-anchor="end" fill="#222" stroke="#222" stroke-width="0.3">1.5</text>
<line x1="420.20" y1="456.35" x2="423.00" y2="456.35" stroke="#161616" stroke-width="1.05"/>
<text x="416.90" y="458.55" font-size="7.2" text-anchor="end" fill="#222" stroke="#222" stroke-width="0.3">2</text>
<line x1="423.00" y1="532.35" x2="423.00" y2="535.25" stroke="#161616" stroke-width="1.05"/>
<text x="423.00" y="545.15" font-size="7.2" text-anchor="middle" fill="#222" stroke="#222" stroke-width="0.3">0</text>
<line x1="461.20" y1="532.35" x2="461.20" y2="535.25" stroke="#161616" stroke-width="1.05"/>
<text x="461.20" y="545.15" font-size="7.2" text-anchor="middle" fill="#222" stroke="#222" stroke-width="0.3">0.5</text>
<line x1="499.40" y1="532.35" x2="499.40" y2="535.25" stroke="#161616" stroke-width="1.05"/>
<text x="499.40" y="545.15" font-size="7.2" text-anchor="middle" fill="#222" stroke="#222" stroke-width="0.3">1</text>
<line x1="424.00" y1="494.35" x2="498.40" y2="494.35" stroke="#3a3a3a" stroke-width="0.75" stroke-dasharray="1.1,0.75"/>
<text x="458.00" y="473.00" font-size="6.6" text-anchor="middle" textLength="32.30" lengthAdjust="spacingAndGlyphs" fill="#222" stroke="#222" stroke-width="0.12">BRQ+DAC</text>
<text x="458.00" y="480.50" font-size="6.6" text-anchor="middle" textLength="46.60" lengthAdjust="spacingAndGlyphs" fill="#222" stroke="#222" stroke-width="0.12">CI = 0.42 – 0.99</text>
<circle cx="450.20" cy="496.30" r="1.9" fill="#A4052B"/>
<circle cx="451.00" cy="506.10" r="1.9" fill="#A4052B"/>
<circle cx="454.10" cy="506.70" r="1.9" fill="#A4052B"/>
<circle cx="451.50" cy="513.70" r="1.9" fill="#A4052B"/>
<circle cx="467.30" cy="514.40" r="1.9" fill="#A4052B"/>
<text x="462.70" y="557.80" font-size="8.4" text-anchor="middle" textLength="64.60" lengthAdjust="spacingAndGlyphs" fill="#111" stroke="#111" stroke-width="0.4">Fraction affected (Fa)</text>
<text x="215.80" y="75.25" font-size="8.4" text-anchor="middle" textLength="48.90" lengthAdjust="spacingAndGlyphs" transform="rotate(-90 215.80 75.25)" fill="#111" stroke="#111" stroke-width="0.4">Cell viability (%)</text>
<text x="14.50" y="213.00" font-size="8.4" text-anchor="middle" textLength="48.50" lengthAdjust="spacingAndGlyphs" transform="rotate(-90 14.50 213.00)" fill="#111" stroke="#111" stroke-width="0.4">Cell viability (%)</text>
<text x="14.80" y="369.50" font-size="8.4" text-anchor="middle" textLength="49.30" lengthAdjust="spacingAndGlyphs" transform="rotate(-90 14.80 369.50)" fill="#111" stroke="#111" stroke-width="0.4">Cell viability (%)</text>
<text x="270.00" y="368.80" font-size="8.4" text-anchor="middle" textLength="49.50" lengthAdjust="spacingAndGlyphs" transform="rotate(-90 270.00 368.80)" fill="#111" stroke="#111" stroke-width="0.4">Cell viability (%)</text>
<text x="397.80" y="368.80" font-size="8.4" text-anchor="middle" textLength="49.50" lengthAdjust="spacingAndGlyphs" transform="rotate(-90 397.80 368.80)" fill="#111" stroke="#111" stroke-width="0.4">Cell viability (%)</text>
<text x="15.80" y="491.00" font-size="8.4" text-anchor="middle" textLength="72.50" lengthAdjust="spacingAndGlyphs" transform="rotate(-90 15.80 491.00)" fill="#111" stroke="#111" stroke-width="0.4">Combination index (CI)</text>
<text x="270.80" y="490.70" font-size="8.4" text-anchor="middle" textLength="73.20" lengthAdjust="spacingAndGlyphs" transform="rotate(-90 270.80 490.70)" fill="#111" stroke="#111" stroke-width="0.4">Combination index (CI)</text>
<text x="398.70" y="490.70" font-size="8.4" text-anchor="middle" textLength="73.20" lengthAdjust="spacingAndGlyphs" transform="rotate(-90 398.70 490.70)" fill="#111" stroke="#111" stroke-width="0.4">Combination index (CI)</text>
</svg></body></html>
